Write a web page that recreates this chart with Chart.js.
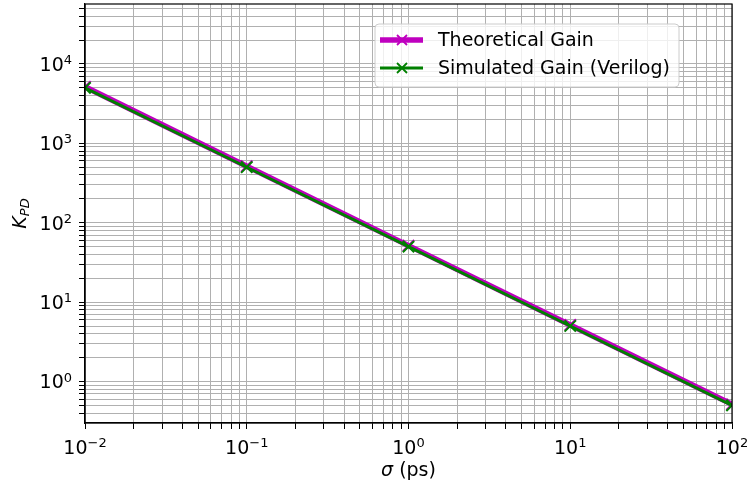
<!DOCTYPE html>
<html>
<head>
<meta charset="utf-8">
<script src="https://cdn.jsdelivr.net/npm/chart.js@4"></script>
<style>
  html, body { margin: 0; background: #fff; }
  #wrap { width: 747px; height: 488px; }
</style>
</head>
<body>
<div id="wrap"><canvas id="chart"></canvas></div>
<script>
// sigma in ps
const sigma = [0.01, 0.1, 1, 10, 100];
const theoreticalGain = [5150, 515, 51.5, 5.15, 0.515];
const simulatedGain = [5000, 500, 50, 5, 0.5];

// decade tick labels (10^n)
const xDecades = [0.01, 0.1, 1, 10, 100];
const yDecades = [0.1, 1, 10, 100, 1000, 10000];
const xMin = 0.01, xMax = 100;
const yMin = 0.305, yMax = 56900;

const fontFamily = "'DejaVu Sans', sans-serif";
const fontSize = 19;
Chart.defaults.font.family = fontFamily;
Chart.defaults.font.size = fontSize;
Chart.defaults.color = '#000';

// grid lines at 1..9 x each decade, like matplotlib which='both'
function gridValues(decades, lo, hi) {
  const out = [];
  for (const d of decades) {
    for (let k = 1; k <= 9; k++) {
      const v = k * d;
      if (v >= lo * 0.9999 && v <= hi * 1.0001) out.push(v);
    }
  }
  return out;
}

// "10" with a raised exponent, like mathtext
function drawPow(ctx, value, x, baseline, align) {
  const exp = String(Math.round(Math.log10(value))).replace('-', '\u2212');
  const supSize = Math.round(fontSize * 0.7);
  ctx.font = `${fontSize}px ${fontFamily}`;
  const bw = ctx.measureText('10').width;
  ctx.font = `${supSize}px ${fontFamily}`;
  const ew = ctx.measureText(exp).width;
  const x0 = align === 'center' ? x - (bw + ew) / 2 : x - (bw + ew);
  ctx.textAlign = 'left';
  ctx.textBaseline = 'alphabetic';
  ctx.font = `${fontSize}px ${fontFamily}`;
  ctx.fillText('10', x0, baseline);
  ctx.font = `${supSize}px ${fontFamily}`;
  ctx.fillText(exp, x0 + bw, baseline - 0.36 * fontSize);
}

const decadeLabels = {
  id: 'decadeLabels',
  afterDraw(chart) {
    const ctx = chart.ctx;
    const xs = chart.scales.x, ys = chart.scales.y;
    ctx.save();
    ctx.fillStyle = '#000';
    xDecades.forEach(v => drawPow(ctx, v, xs.getPixelForValue(v), 454, 'center'));
    yDecades.filter(v => v >= yMin && v <= yMax)
      .forEach(v => drawPow(ctx, v, 72, ys.getPixelForValue(v) + 7, 'right'));
    ctx.restore();
  }
};

const gridOpts = {
  color: '#b0b0b0',
  lineWidth: 1,
  tickLength: 6,
  tickColor: '#000',
};

// axis titles with italic sigma / K_PD
const axisTitles = {
  id: 'axisTitles',
  afterDraw(chart) {
    const ctx = chart.ctx;
    const area = chart.chartArea;
    const subSize = Math.round(fontSize * 0.7);
    ctx.save();
    ctx.fillStyle = '#000';
    ctx.textBaseline = 'alphabetic';
    ctx.textAlign = 'left';
    // x title
    const cx = (area.left + area.right) / 2;
    ctx.font = `italic ${fontSize}px ${fontFamily}`;
    const w1 = ctx.measureText('\u03c3').width;
    ctx.font = `${fontSize}px ${fontFamily}`;
    const w2 = ctx.measureText(' (ps)').width;
    const x0 = cx - (w1 + w2) / 2;
    ctx.font = `italic ${fontSize}px ${fontFamily}`;
    ctx.fillText('\u03c3', x0, 476);
    ctx.font = `${fontSize}px ${fontFamily}`;
    ctx.fillText(' (ps)', x0 + w1, 476);
    // y title
    const cy = (area.top + area.bottom) / 2;
    ctx.translate(26, cy);
    ctx.rotate(-Math.PI / 2);
    ctx.font = `italic ${fontSize}px ${fontFamily}`;
    const kw = ctx.measureText('K').width;
    ctx.font = `italic ${subSize}px ${fontFamily}`;
    const sw = ctx.measureText('PD').width;
    const start = -(kw + sw) / 2;
    ctx.font = `italic ${fontSize}px ${fontFamily}`;
    ctx.fillText('K', start, 0);
    ctx.font = `italic ${subSize}px ${fontFamily}`;
    ctx.fillText('PD', start + kw, 3);
    ctx.restore();
  }
};

// black frame around the axes
const frame = {
  id: 'frame',
  afterDatasetsDraw(chart) {
    const {ctx, chartArea: a} = chart;
    ctx.save();
    ctx.strokeStyle = '#000';
    ctx.lineWidth = 1.2;
    ctx.strokeRect(a.left, a.top, a.right - a.left, a.bottom - a.top);
    ctx.restore();
  }
};

// matplotlib-style legend inside the axes
const boxLegend = {
  id: 'boxLegend',
  afterDraw(chart) {
    const ctx = chart.ctx;
    const left = 375, top = 24, width = 304, height = 63;
    ctx.save();
    ctx.beginPath();
    ctx.roundRect(left, top, width, height, 4);
    ctx.fillStyle = 'rgba(255,255,255,0.8)';
    ctx.fill();
    ctx.strokeStyle = '#cccccc';
    ctx.lineWidth = 1;
    ctx.stroke();
    const items = [chart.data.datasets[1], chart.data.datasets[0]];
    items.forEach((ds, i) => {
      const y = top + 16 + i * 28;
      ctx.strokeStyle = ds.borderColor;
      ctx.lineWidth = ds.borderWidth;
      ctx.beginPath();
      ctx.moveTo(left + 5, y);
      ctx.lineTo(left + 48, y);
      ctx.stroke();
      const mx = left + 27, r = 5;
      ctx.lineWidth = 1.8;
      ctx.strokeStyle = ds.pointBorderColor;
      ctx.beginPath();
      ctx.moveTo(mx - r, y - r); ctx.lineTo(mx + r, y + r);
      ctx.moveTo(mx - r, y + r); ctx.lineTo(mx + r, y - r);
      ctx.stroke();
      ctx.fillStyle = '#000';
      ctx.textAlign = 'left';
      ctx.textBaseline = 'middle';
      ctx.font = `${fontSize}px ${fontFamily}`;
      ctx.fillText(ds.label, left + 63, y + 1);
    });
    ctx.restore();
  }
};

new Chart(document.getElementById('chart'), {
  type: 'scatter',
  data: {
    datasets: [
      {
        label: 'Simulated Gain (Verilog)',
        data: sigma.map((s, i) => ({x: s, y: simulatedGain[i]})),
        showLine: true,
        borderColor: '#008000',
        borderWidth: 3,
        pointStyle: 'crossRot',
        pointRadius: 8,
        pointBorderWidth: 2,
        pointBorderColor: '#008000',
        pointBackgroundColor: '#008000',
      },
      {
        label: 'Theoretical Gain',
        data: sigma.map((s, i) => ({x: s, y: theoreticalGain[i]})),
        showLine: true,
        borderColor: '#bf00bf',
        borderWidth: 5.5,
        pointStyle: 'crossRot',
        pointRadius: 8,
        pointBorderWidth: 2,
        pointBorderColor: '#bf00bf',
        pointBackgroundColor: '#bf00bf',
      },
    ]
  },
  options: {
    responsive: true,
    maintainAspectRatio: false,
    animation: false,
    // markers at the ends would otherwise push the plot area in
    layout: {autoPadding: false, padding: {top: 4, right: 15, left: 0, bottom: 0}},
    plugins: {
      legend: {display: false},
      tooltip: {enabled: false},
    },
    scales: {
      x: {
        type: 'logarithmic',
        min: xMin,
        max: xMax,
        afterBuildTicks(scale) {
          scale.ticks = gridValues(xDecades, xMin, xMax).map(v => ({value: v}));
        },
        afterFit(scale) {
          scale.height = 65;
          scale.paddingLeft = 0;
          scale.paddingRight = 0;
        },
        ticks: {display: false, autoSkip: false},
        grid: gridOpts,
        border: {color: '#000', width: 1.2},
      },
      y: {
        type: 'logarithmic',
        min: yMin,
        max: yMax,
        afterBuildTicks(scale) {
          scale.ticks = gridValues(yDecades, yMin, yMax).map(v => ({value: v}));
        },
        afterFit(scale) {
          scale.width = 85;
          scale.paddingTop = 0;
          scale.paddingBottom = 0;
        },
        ticks: {display: false, autoSkip: false},
        grid: gridOpts,
        border: {color: '#000', width: 1.2},
      }
    }
  },
  plugins: [frame, axisTitles, decadeLabels, boxLegend]
});
</script>
</body>
</html>
